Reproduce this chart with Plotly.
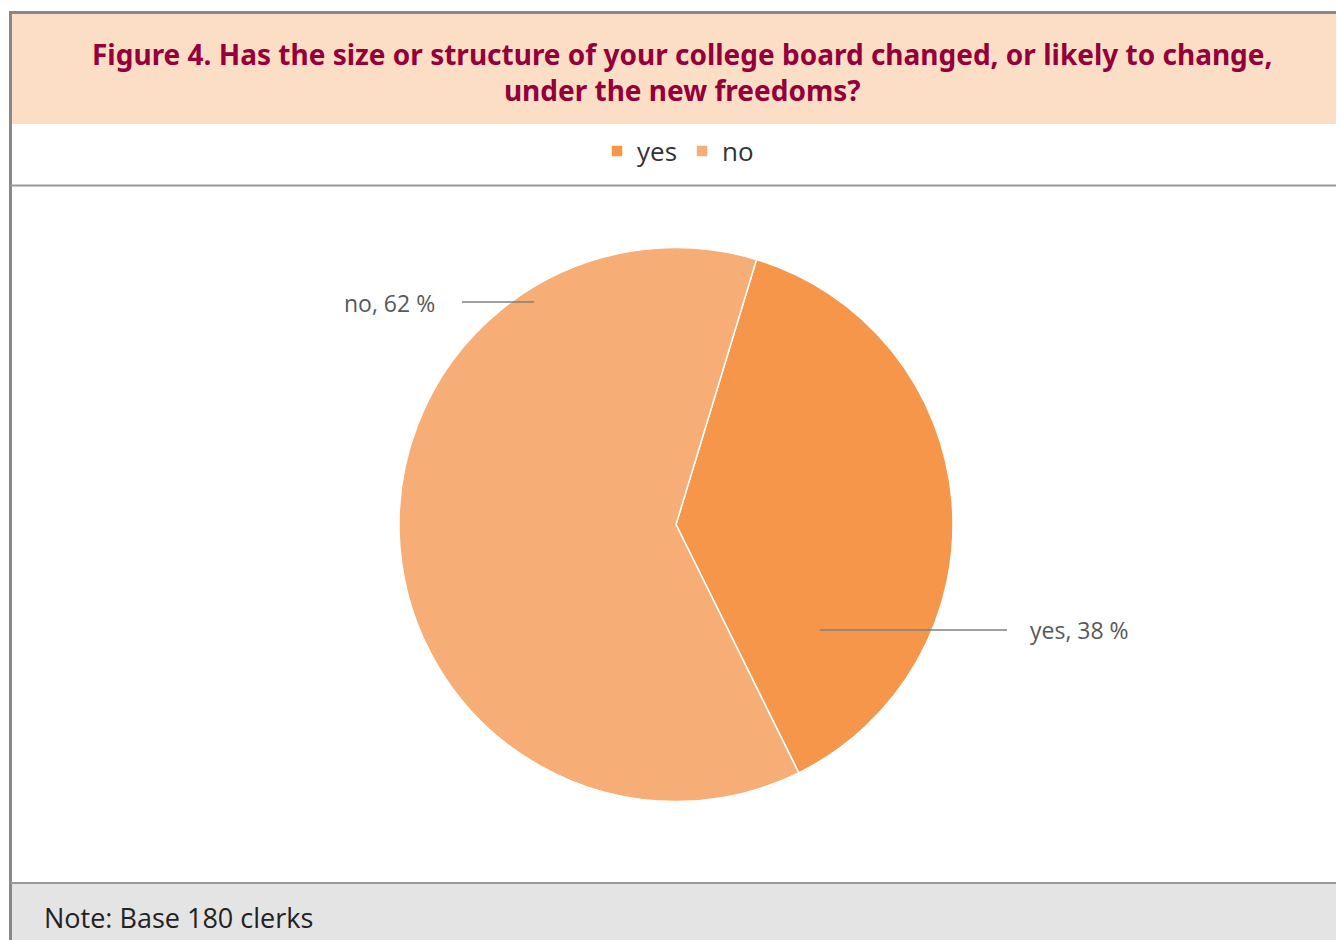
import plotly.graph_objects as go

labels = ["yes", "no"]
values = [38, 62]
colors = ["#F5964A", "#F6AE76"]
label_texts = ["yes, 38 %", "no, 62 %"]
title_text = "Figure 4. Has the size or structure of your college board changed, or likely to change,<br>under the new freedoms?"
note_text = "Note: Base 180 clerks"

OFF = 8  # page body margin
W, H = 1344, 940
def px(x):
    return (x - OFF) / W
def py(y):
    return 1 - (y - OFF) / H

fig = go.Figure()
fig.add_trace(go.Pie(
    labels=labels, values=values, sort=False, direction="clockwise", rotation=16.9,
    marker=dict(colors=colors, line=dict(color="white", width=1.5)),
    textinfo="none", hoverinfo="label+percent",
    domain=dict(x=[px(399), px(953)], y=[py(802), py(247)]),
))

shapes = [
    dict(type="rect", xref="paper", yref="paper", x0=px(11), x1=1.01, y0=py(124), y1=py(13),
         fillcolor="#FCDEC7", line=dict(width=0), layer="below"),
    dict(type="rect", xref="paper", yref="paper", x0=px(11), x1=1.01, y0=-0.02, y1=py(883),
         fillcolor="#E4E4E4", line=dict(width=0), layer="below"),
    dict(type="line", xref="paper", yref="paper", x0=px(10.5), x1=1.01, y0=py(12.5), y1=py(12.5),
         line=dict(color="#888888", width=3)),
    dict(type="line", xref="paper", yref="paper", x0=px(10.5), x1=px(10.5), y0=-0.02, y1=py(11),
         line=dict(color="#888888", width=3)),
    dict(type="line", xref="paper", yref="paper", x0=px(10.5), x1=1.01, y0=py(185.5), y1=py(185.5),
         line=dict(color="#999999", width=2)),
    dict(type="line", xref="paper", yref="paper", x0=px(10.5), x1=1.01, y0=py(883), y1=py(883),
         line=dict(color="#999999", width=2)),
    dict(type="line", xref="paper", yref="paper", x0=px(820), x1=px(1007), y0=py(630), y1=py(630),
         line=dict(color="#7F7F7F", width=1.3)),
    dict(type="line", xref="paper", yref="paper", x0=px(462), x1=px(534), y0=py(302), y1=py(302),
         line=dict(color="#7F7F7F", width=1.3)),
]

annotations = [
    dict(text=title_text, xref="paper", yref="paper", x=px(682), y=py(72), showarrow=False,
         xanchor="center", yanchor="middle", align="center",
         font=dict(family="Noto Sans", size=28, color="#93003A", weight="bold")),
    dict(text=label_texts[0], xref="paper", yref="paper", x=px(1028), y=py(630), showarrow=False,
         xanchor="left", yanchor="middle", font=dict(family="Open Sans", size=23, color="#595959")),
    dict(text=label_texts[1], xref="paper", yref="paper", x=px(437), y=py(303), showarrow=False,
         xanchor="right", yanchor="middle", font=dict(family="Open Sans", size=23, color="#595959")),
    dict(text=note_text, xref="paper", yref="paper", x=px(42), y=py(917), showarrow=False,
         xanchor="left", yanchor="middle", font=dict(family="Open Sans", size=27, color="#222222")),
]

fig.update_layout(
    width=W, height=H, margin=dict(l=0, r=0, t=0, b=0),
    paper_bgcolor="white", plot_bgcolor="white",
    showlegend=True,
    legend=dict(orientation="h", x=px(678), y=py(151), xanchor="center", yanchor="middle",
                font=dict(family="Open Sans", size=26, color="#333333"),
                bgcolor="rgba(0,0,0,0)", itemwidth=30),
    shapes=shapes, annotations=annotations,
)

fig.write_html("out.html")
